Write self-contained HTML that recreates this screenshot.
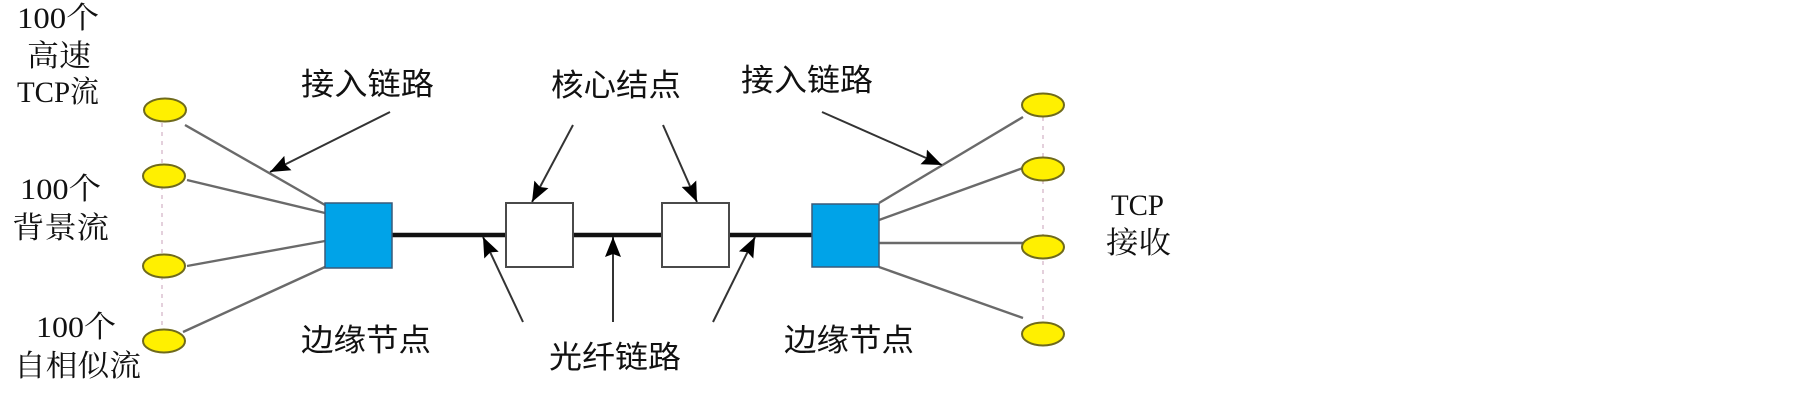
<!DOCTYPE html>
<html>
<head>
<meta charset="utf-8">
<style>
  html, body { margin: 0; padding: 0; background: #ffffff; }
  body { width: 1805px; height: 410px; overflow: hidden; }
  svg { display: block; }
  .serif { font-family: "Liberation Serif", "Noto Serif CJK SC", serif; font-size: 30px; fill: #111; }
  .sans { font-family: "Liberation Sans", "Noto Sans CJK SC", sans-serif; font-size: 31px; fill: #111; }
</style>
</head>
<body>
<svg width="1805" height="410" viewBox="0 0 1805 410" xmlns="http://www.w3.org/2000/svg">
  <defs>
    <marker id="ah" markerUnits="userSpaceOnUse" markerWidth="24" markerHeight="20" refX="20" refY="10" orient="auto">
      <path d="M0,2 L20,10 L0,18 L3,10 Z" fill="#000"/>
    </marker>
  </defs>

  <!-- dashed vertical connectors -->
  <line x1="162" y1="123" x2="162" y2="330" stroke="#dcc0d0" stroke-width="1.5" stroke-dasharray="4,5"/>
  <line x1="1043" y1="117" x2="1043" y2="322" stroke="#dcc0d0" stroke-width="1.5" stroke-dasharray="4,5"/>

  <!-- access lines -->
  <g stroke="#6a6a6a" stroke-width="2.4" fill="none">
    <line x1="185" y1="125" x2="325" y2="205"/>
    <line x1="187" y1="180" x2="325" y2="213"/>
    <line x1="187" y1="266" x2="325" y2="241"/>
    <line x1="183" y1="332" x2="325" y2="267"/>
    <line x1="879" y1="203" x2="1023" y2="117"/>
    <line x1="879" y1="220" x2="1023" y2="168"/>
    <line x1="879" y1="243" x2="1023" y2="243"/>
    <line x1="879" y1="267" x2="1023" y2="318"/>
  </g>

  <!-- fiber trunk -->
  <line x1="392" y1="235" x2="812" y2="235" stroke="#111" stroke-width="4.5"/>

  <!-- edge nodes -->
  <rect x="325" y="203" width="67" height="65" fill="#00a3e8" stroke="#3a5a78" stroke-width="1.5"/>
  <rect x="812" y="204" width="67" height="63" fill="#00a3e8" stroke="#3a5a78" stroke-width="1.5"/>
  <!-- core nodes -->
  <rect x="506" y="203" width="67" height="64" fill="#ffffff" stroke="#4a4a4a" stroke-width="2"/>
  <rect x="662" y="203" width="67" height="64" fill="#ffffff" stroke="#4a4a4a" stroke-width="2"/>

  <!-- ellipses -->
  <g fill="#fff000" stroke="#6f6a1c" stroke-width="2">
    <ellipse cx="165" cy="110" rx="21" ry="11.5"/>
    <ellipse cx="164" cy="176" rx="21" ry="11.5"/>
    <ellipse cx="164" cy="266" rx="21" ry="11.5"/>
    <ellipse cx="164" cy="341" rx="21" ry="11.5"/>
    <ellipse cx="1043" cy="105" rx="21" ry="11.5"/>
    <ellipse cx="1043" cy="169" rx="21" ry="11.5"/>
    <ellipse cx="1043" cy="247" rx="21" ry="11.5"/>
    <ellipse cx="1043" cy="334" rx="21" ry="11.5"/>
  </g>

  <!-- annotation arrows -->
  <g stroke="#333" stroke-width="2" fill="none" marker-end="url(#ah)">
    <line x1="390" y1="112" x2="270" y2="172"/>
    <line x1="822" y1="112" x2="942" y2="165"/>
    <line x1="573" y1="125" x2="532" y2="202"/>
    <line x1="663" y1="125" x2="697" y2="202"/>
    <line x1="523" y1="322" x2="483" y2="237"/>
    <line x1="613" y1="322" x2="613" y2="237"/>
    <line x1="713" y1="322" x2="755" y2="237"/>
  </g>

  <!-- left serif labels -->
  <text class="serif" x="17" y="28" textLength="82" lengthAdjust="spacingAndGlyphs">100个</text>
  <text class="serif" x="27" y="66" textLength="64" lengthAdjust="spacingAndGlyphs">高速</text>
  <text class="serif" x="17" y="102" textLength="82" lengthAdjust="spacingAndGlyphs">TCP流</text>
  <text class="serif" x="20" y="199" textLength="81" lengthAdjust="spacingAndGlyphs">100个</text>
  <text class="serif" x="12" y="238" textLength="97" lengthAdjust="spacingAndGlyphs">背景流</text>
  <text class="serif" x="36" y="337" textLength="80" lengthAdjust="spacingAndGlyphs">100个</text>
  <text class="serif" x="14" y="376" textLength="127" lengthAdjust="spacingAndGlyphs">自相似流</text>

  <!-- right serif labels -->
  <text class="serif" x="1111" y="215" textLength="53" lengthAdjust="spacingAndGlyphs">TCP</text>
  <text class="serif" x="1106" y="253" textLength="65" lengthAdjust="spacingAndGlyphs">接收</text>

  <!-- sans labels -->
  <text class="sans" x="301" y="95" textLength="133" lengthAdjust="spacingAndGlyphs">接入链路</text>
  <text class="sans" x="301" y="351" textLength="130" lengthAdjust="spacingAndGlyphs">边缘节点</text>
  <text class="sans" x="551" y="96" textLength="130" lengthAdjust="spacingAndGlyphs">核心结点</text>
  <text class="sans" x="549" y="368" textLength="132" lengthAdjust="spacingAndGlyphs">光纤链路</text>
  <text class="sans" x="741" y="91" textLength="132" lengthAdjust="spacingAndGlyphs">接入链路</text>
  <text class="sans" x="784" y="351" textLength="130" lengthAdjust="spacingAndGlyphs">边缘节点</text>
</svg>
</body>
</html>
